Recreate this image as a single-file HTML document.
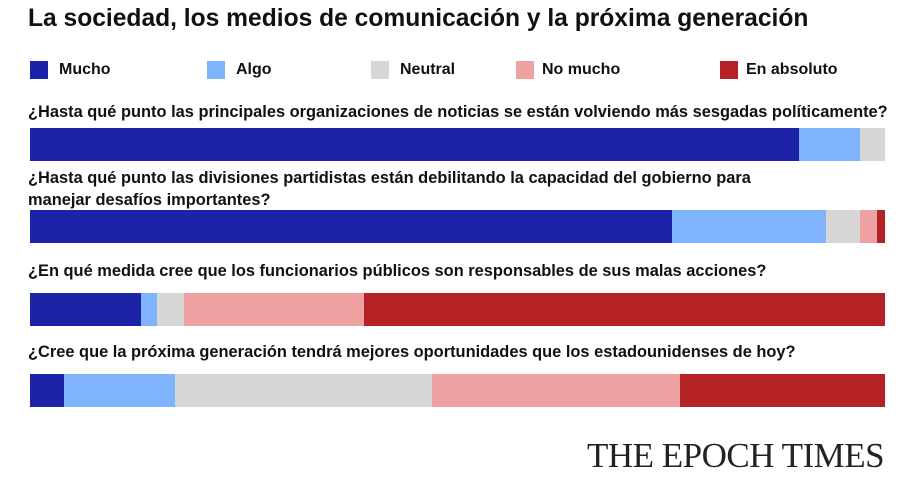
<!DOCTYPE html>
<html><head><meta charset="utf-8"><style>
body{margin:0;width:924px;height:497px;background:#fff;position:relative;overflow:hidden;font-family:"Liberation Sans",sans-serif;color:#111}
.a{position:absolute;white-space:nowrap}
.t{left:28px;top:5px;font-size:24.6px;font-weight:bold}
.q{font-size:17px;font-weight:bold;left:28px;transform:scaleX(0.965);transform-origin:0 0}
.sq{position:absolute;width:18px;height:18px;top:61px}
.lg{font-size:16px;font-weight:bold;top:61px}
.bar{position:absolute;left:30px;width:855px;display:flex;height:33px}
.bar div{height:100%}
.c1{background:#1c23a6}.c2{background:#7fb3fd}.c3{background:#d6d6d4}.c4{background:#eda1a1}.c5{background:#b52226}
</style></head><body>
<div class="a t">La sociedad, los medios de comunicación y la próxima generación</div>
<div class="sq c1" style="left:30px"></div><div class="a lg" style="left:59px">Mucho</div>
<div class="sq c2" style="left:207px"></div><div class="a lg" style="left:236px">Algo</div>
<div class="sq c3" style="left:371px"></div><div class="a lg" style="left:400px">Neutral</div>
<div class="sq c4" style="left:516px"></div><div class="a lg" style="left:542px">No mucho</div>
<div class="sq c5" style="left:720px"></div><div class="a lg" style="left:746px">En absoluto</div>
<div class="a q" style="top:102px">¿Hasta qué punto las principales organizaciones de noticias se están volviendo más sesgadas políticamente?</div>
<div class="bar" style="top:128px"><div class="c1" style="width:769px"></div><div class="c2" style="width:61px"></div><div class="c3" style="width:25px"></div></div>
<div class="a q" style="top:167px;line-height:22px">¿Hasta qué punto las divisiones partidistas están debilitando la capacidad del gobierno para<br>manejar desafíos importantes?</div>
<div class="bar" style="top:210px"><div class="c1" style="width:642px"></div><div class="c2" style="width:154px"></div><div class="c3" style="width:34px"></div><div class="c4" style="width:17px"></div><div class="c5" style="width:8px"></div></div>
<div class="a q" style="top:261px">¿En qué medida cree que los funcionarios públicos son responsables de sus malas acciones?</div>
<div class="bar" style="top:293px"><div class="c1" style="width:111px"></div><div class="c2" style="width:16px"></div><div class="c3" style="width:27px"></div><div class="c4" style="width:180px"></div><div class="c5" style="width:521px"></div></div>
<div class="a q" style="top:342px">¿Cree que la próxima generación tendrá mejores oportunidades que los estadounidenses de hoy?</div>
<div class="bar" style="top:374px"><div class="c1" style="width:34px"></div><div class="c2" style="width:111px"></div><div class="c3" style="width:257px"></div><div class="c4" style="width:248px"></div><div class="c5" style="width:205px"></div></div>
<div class="a" style="left:587px;top:436px;font-family:'Liberation Serif',serif;font-size:35px;color:#222;letter-spacing:-0.5px">THE EPOCH TIMES</div>
</body></html>
